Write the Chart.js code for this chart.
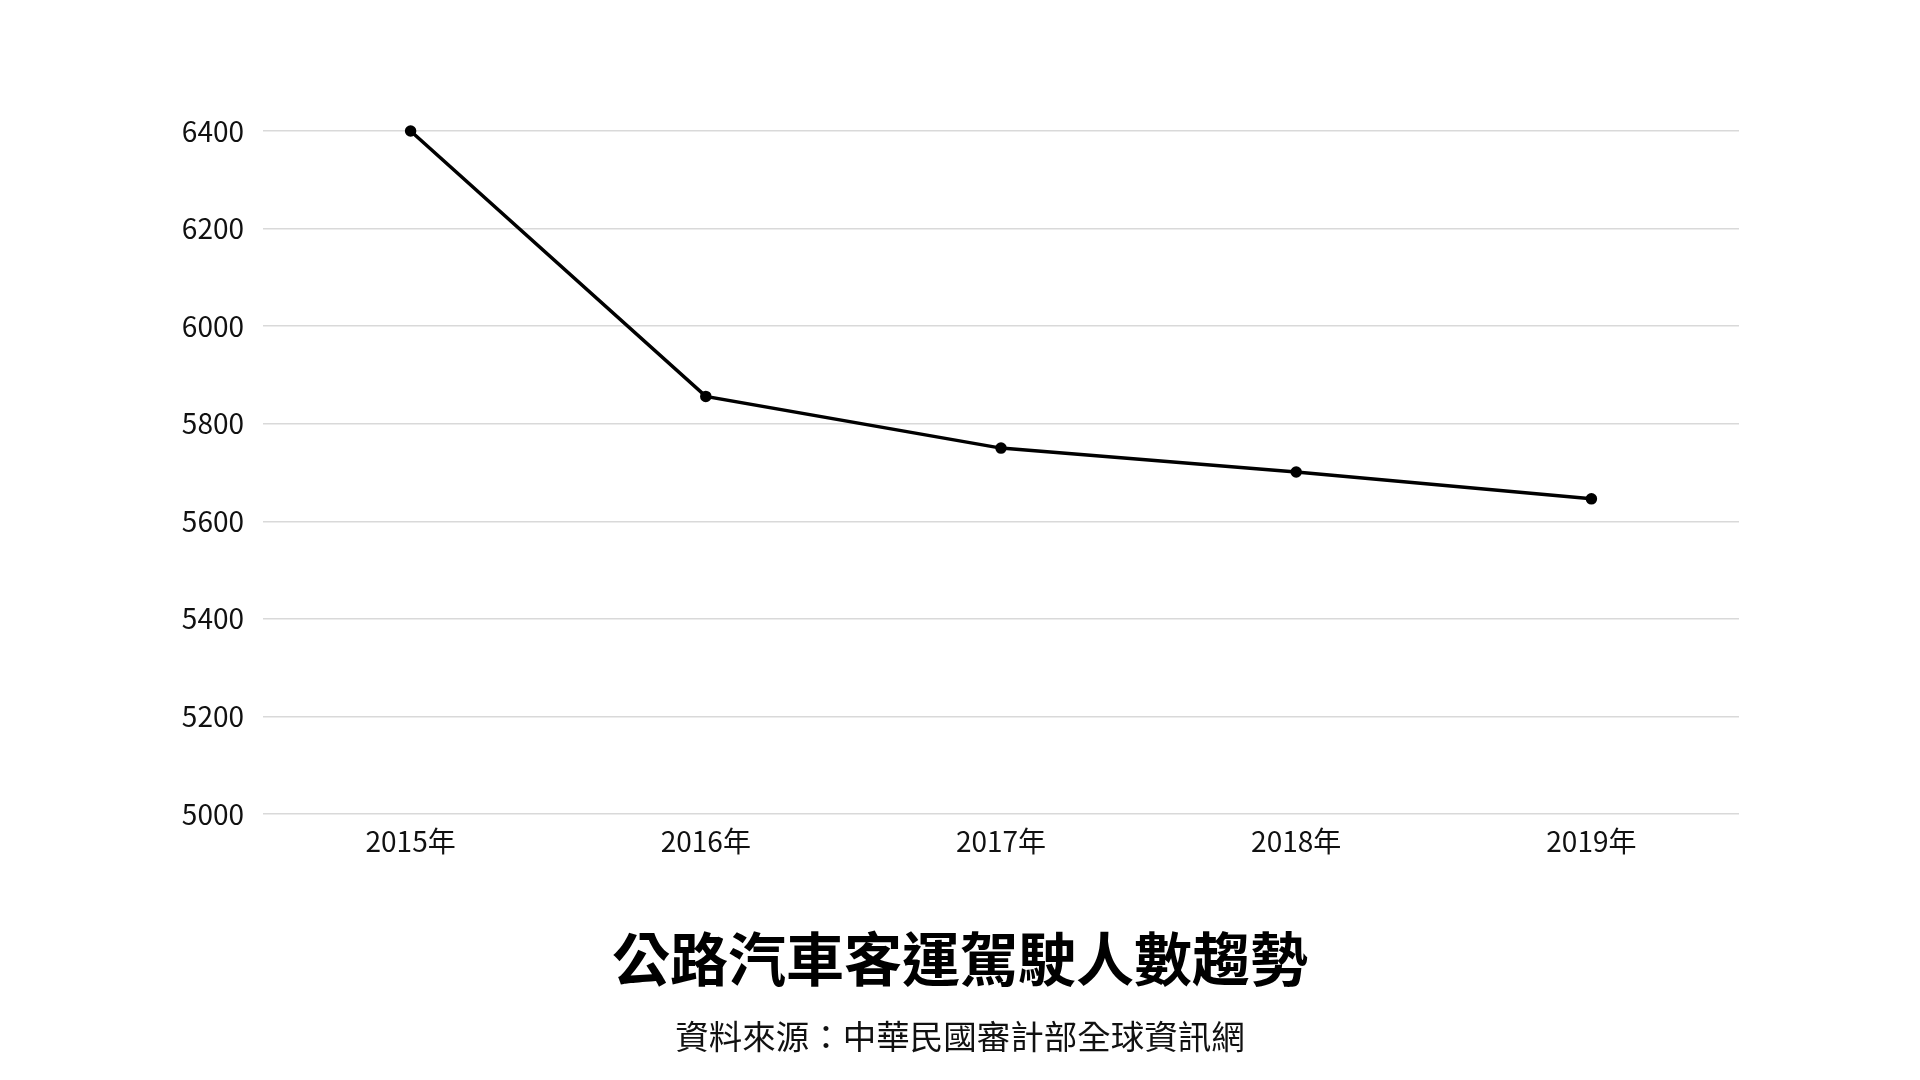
<!DOCTYPE html>
<html lang="zh-Hant">
<head>
<meta charset="utf-8">
<title>公路汽車客運駕駛人數趨勢</title>
<script src="https://cdn.jsdelivr.net/npm/chart.js@4.4.1/dist/chart.umd.min.js"></script>
<style>
    html, body {
        margin: 0;
        padding: 0;
        background: #ffffff;
    }
    #wrap {
        position: relative;
        width: 1920px;
        height: 1080px;
        font-family: "Noto Sans CJK TC", "Noto Sans", sans-serif;
    }
    #driverChart {
        position: absolute;
        left: 0;
        top: 0;
    }
    #title {
        position: absolute;
        left: 0;
        width: 1920px;
        top: 916px;
        text-align: center;
        font-size: 58px;
        font-weight: 700;
        color: #000000;
        line-height: 80px;
    }
    #source {
        position: absolute;
        left: 0;
        width: 1920px;
        top: 1011px;
        text-align: center;
        font-size: 33.5px;
        color: #111111;
        line-height: 48px;
    }
</style>
</head>
<body>
<div id="wrap">
    <canvas id="driverChart" width="1920" height="1080"></canvas>
    <div id="title">公路汽車客運駕駛人數趨勢</div>
    <div id="source">資料來源：中華民國審計部全球資訊網</div>
</div>
<script>
"use strict";

// Årtal och antal förare
const years = ["2015年", "2016年", "2017年", "2018年", "2019年"];
const drivers = [6400, 5856, 5750, 5701, 5646];

// Y-axelns gränser
const yMin = 5000;
const yMax = 6400;
const yStep = 200;

const ctx = document.getElementById("driverChart");

new Chart(ctx, {
    type: "line",
    data: {
        labels: years,
        datasets: [{
            label: "駕駛人數",
            data: drivers,
            borderColor: "#000000",
            backgroundColor: "#000000",
            borderWidth: 3.5,
            pointRadius: 4,
            pointHoverRadius: 4,
            tension: 0,
            clip: false
        }]
    },
    options: {
        responsive: false,
        animation: false,
        layout: {
            padding: { left: 0, right: 181, top: 131, bottom: 206 }
        },
        plugins: {
            legend: { display: false },
            tooltip: { enabled: false }
        },
        scales: {
            x: {
                offset: true,
                grid: { display: false, drawTicks: false },
                border: { display: false },
                ticks: {
                    color: "#111111",
                    padding: 11,
                    font: { family: "Noto Sans CJK TC", size: 28 }
                },
                afterFit: (scale) => { scale.height = 60; }
            },
            y: {
                min: yMin,
                max: yMax,
                grid: {
                    color: "#d9d9d9",
                    lineWidth: 1.5,
                    drawTicks: false
                },
                border: { display: false },
                ticks: {
                    stepSize: yStep,
                    color: "#111111",
                    padding: 19,
                    font: { family: "Noto Sans CJK TC", size: 28 },
                    // Inga tusentalsavgränsare
                    callback: (value) => String(value)
                },
                afterFit: (scale) => { scale.width = 263; }
            }
        }
    }
});
</script>
</body>
</html>
